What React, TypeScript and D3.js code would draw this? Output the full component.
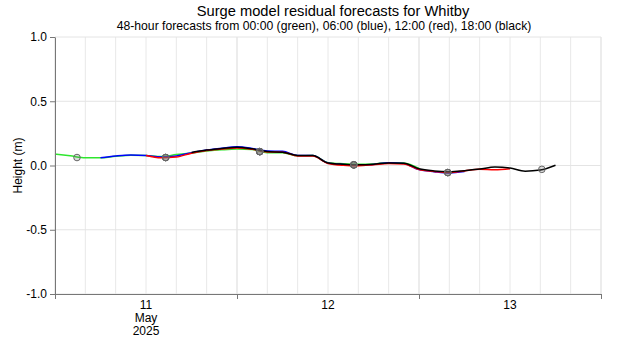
import React, { useRef, useEffect } from 'react';
import * as d3 from 'd3';

// hours after 11 May 2025 00:00 UTC, 2-hourly
const greenHours = d3.range(0, 49, 2);
const greenValues = [0.088, 0.075, 0.06, 0.06, 0.072, 0.08, 0.078, 0.07, 0.085, 0.098, 0.112, 0.122, 0.128, 0.124, 0.1, 0.1, 0.076, 0.077, 0.022, 0.014, 0.01, 0.012, 0.022, 0.02, -0.022];

const blueHours = d3.range(6, 55, 2);
const blueValues = [0.06, 0.074, 0.082, 0.078, 0.066, 0.074, 0.1, 0.12, 0.134, 0.145, 0.133, 0.113, 0.11, 0.078, 0.077, 0.02, 0.008, 0.004, 0.008, 0.022, 0.016, -0.032, -0.048, -0.058, -0.047];

const redHours = d3.range(12, 61, 2);
const redValues = [0.078, 0.06, 0.066, 0.096, 0.116, 0.128, 0.136, 0.126, 0.106, 0.104, 0.074, 0.073, 0.016, 0.002, -0.002, 0.006, 0.016, 0.012, -0.032, -0.046, -0.055, -0.042, -0.03, -0.034, -0.025];

const blackHours = d3.range(18, 67, 2);
const blackValues = [0.102, 0.12, 0.132, 0.143, 0.13, 0.108, 0.104, 0.078, 0.077, 0.02, 0.01, 0.006, 0.01, 0.02, 0.018, -0.025, -0.042, -0.048, -0.04, -0.028, -0.012, -0.02, -0.044, -0.035, 0.002];

// high water marks
const hwHours = [2.9, 14.6, 27.0, 39.4, 51.8, 64.2];
const hwHeights = [0.062, 0.062, 0.108, 0.005, -0.055, -0.03];

const yTicks = [-1, -0.5, 0, 0.5, 1];
const dayLabels = ['11', '12', '13'];

const series = [
  { name: '00:00', color: '#2ee62e', hours: greenHours, values: greenValues },
  { name: '06:00', color: '#0000ff', hours: blueHours, values: blueValues },
  { name: '12:00', color: '#ff0000', hours: redHours, values: redValues },
  { name: '18:00', color: '#000000', hours: blackHours, values: blackValues },
];

const start = new Date(Date.UTC(2025, 4, 11));
const end = new Date(Date.UTC(2025, 4, 14));
const at = (h: number) => new Date(start.getTime() + h * 3600 * 1000);

export default function App() {
  const svgRef = useRef<SVGSVGElement | null>(null);

  useEffect(() => {
    if (!svgRef.current) return;
    const svg = d3.select(svgRef.current);
    svg.selectAll('*').remove();

    const margin = { top: 37, right: 19, bottom: 56, left: 55 };
    const width = 620;
    const height = 350;

    const x = d3.scaleUtc().domain([start, end]).range([margin.left, width - margin.right]);
    const y = d3.scaleLinear().domain([-1, 1]).range([height - margin.bottom, margin.top]);

    const font = 'Liberation Sans, Arial, sans-serif';

    // grid
    const grid = svg.append('g');
    grid.selectAll('line.v')
      .data(d3.utcHour.every(4)!.range(start, d3.utcHour.offset(end, 1)))
      .join('line')
      .attr('x1', d => x(d)).attr('x2', d => x(d))
      .attr('y1', margin.top).attr('y2', height - margin.bottom)
      .attr('stroke', d => (d.getUTCHours() === 0 ? '#d9d9d9' : '#e8e8e8'))
      .attr('stroke-width', 1);
    grid.selectAll('line.h')
      .data(yTicks)
      .join('line')
      .attr('x1', margin.left).attr('x2', width - margin.right)
      .attr('y1', d => y(d)).attr('y2', d => y(d))
      .attr('stroke', '#e4e4e4');

    // lines
    const line = d3.line<[number, number]>()
      .x(d => x(at(d[0])))
      .y(d => y(d[1]))
      .curve(d3.curveMonotoneX);

    series.forEach(s => {
      const pts = s.hours.map((h, i) => [h, s.values[i]] as [number, number]);
      svg.append('path')
        .attr('d', line(pts)!)
        .attr('fill', 'none')
        .attr('stroke', s.color)
        .attr('stroke-width', 1.5);
    });

    // high water circles, one per forecast run covering the time
    series.forEach(s => {
      const lo = s.hours[0];
      const hi = s.hours[s.hours.length - 1];
      const idx = hwHours.map((h, i) => i).filter(i => hwHours[i] >= lo && hwHours[i] <= hi);
      svg.append('g')
        .selectAll('circle')
        .data(idx)
        .join('circle')
        .attr('cx', i => x(at(hwHours[i])))
        .attr('cy', i => y(hwHeights[i]))
        .attr('r', 3.3)
        .attr('fill', 'rgba(110,110,110,0.25)')
        .attr('stroke', '#666')
        .attr('stroke-width', 1);
    });

    // y axis
    const yAxis = svg.append('g')
      .attr('transform', `translate(${margin.left},0)`)
      .call(d3.axisLeft(y).tickValues(yTicks).tickSize(5).tickSizeOuter(0));
    yAxis.select('.domain').attr('stroke', '#777');
    yAxis.selectAll('line').attr('stroke', '#777');
    yAxis.selectAll('text')
      .attr('font-family', font).attr('font-size', 12).attr('fill', '#000')
      .text(d => d3.format('.1f')(d as number).replace('−', '-'));

    // x axis
    const xAxis = svg.append('g')
      .attr('transform', `translate(0,${height - margin.bottom})`)
      .call(d3.axisBottom(x).ticks(d3.utcDay.every(1)).tickFormat(() => '').tickSize(5).tickSizeOuter(0));
    xAxis.select('.domain').attr('stroke', '#777');
    xAxis.selectAll('line').attr('stroke', '#777');

    const labels = svg.append('g')
      .attr('font-family', font).attr('font-size', 12).attr('text-anchor', 'middle');
    labels.selectAll('text.day')
      .data(dayLabels)
      .join('text')
      .attr('x', (d, i) => x(at(12 + i * 24)))
      .attr('y', height - margin.bottom + 15)
      .text(d => d);
    labels.append('text').attr('x', x(at(12))).attr('y', height - margin.bottom + 28).text('May');
    labels.append('text').attr('x', x(at(12))).attr('y', height - margin.bottom + 41).text('2025');

    svg.append('text')
      .attr('transform', `translate(22,${y(0)}) rotate(-90)`)
      .attr('text-anchor', 'middle')
      .attr('font-family', font).attr('font-size', 12)
      .text('Height (m)');

    // titles
    svg.append('text')
      .attr('x', 333).attr('y', 16)
      .attr('text-anchor', 'middle')
      .attr('font-family', font).attr('font-size', 14.7)
      .text('Surge model residual forecasts for Whitby');
    svg.append('text')
      .attr('x', 324).attr('y', 30)
      .attr('text-anchor', 'middle')
      .attr('font-family', font).attr('font-size', 12.2)
      .text('48-hour forecasts from 00:00 (green), 06:00 (blue), 12:00 (red), 18:00 (black)');
  }, []);

  return (
    <svg ref={svgRef} width={620} height={350}
      style={{ position: 'absolute', left: 0, top: 0, background: '#fff' }} />
  );
}
